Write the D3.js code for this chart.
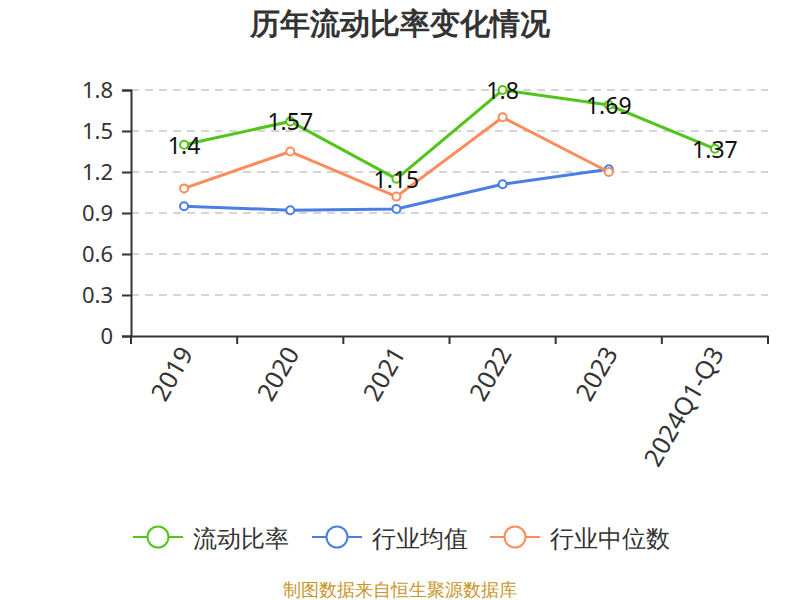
<!DOCTYPE html>
<html><head><meta charset="utf-8">
<script src="https://cdn.jsdelivr.net/npm/d3@7/dist/d3.min.js"></script>
<style>body{margin:0;background:#fff}svg{display:block;font-family:"Noto Sans","Open Sans",sans-serif}</style>
</head><body>
<svg id="c" width="800" height="600"></svg>
<script>
const categories = ["2019","2020","2021","2022","2023","2024Q1-Q3"];
const currentRatio = [1.4, 1.57, 1.15, 1.8, 1.69, 1.37];
const industryMean = [0.95, 0.92, 0.93, 1.11, 1.22, null];
const industryMedian = [1.08, 1.35, 1.02, 1.6, 1.2, null];
const yTicks = [0, 0.3, 0.6, 0.9, 1.2, 1.5, 1.8];
const seriesNames = ["流动比率","行业均值","行业中位数"];
const colors = ["#52c41a","#4a7ee3","#ff8b5a"];

const svg = d3.select("#c");
const L = 131, R = 768, T = 90, B = 336;
const x = d3.scaleBand().domain(categories).range([L, R]);
const y = d3.scaleLinear().domain([0, 1.8]).range([B, T]);

svg.append("text").attr("x", 400).attr("y", 34).attr("text-anchor","middle")
  .attr("font-size", 30).attr("font-weight","bold").attr("fill","#333").text("历年流动比率变化情况");

// grid
svg.append("g").selectAll("line").data(yTicks.filter(d=>d>0)).join("line")
  .attr("x1", L).attr("x2", R).attr("y1", d=>y(d)).attr("y2", d=>y(d))
  .attr("stroke","#c8c8c8").attr("stroke-width",1.5).attr("stroke-dasharray","8,6");

// y axis
const ya = svg.append("g").attr("transform",`translate(${L},0)`)
  .call(d3.axisLeft(y).tickValues(yTicks).tickSize(9).tickPadding(9).tickFormat(d=>String(d)));
ya.attr("font-size",null);
ya.select(".domain").attr("stroke","#333").attr("stroke-width",2);
ya.selectAll(".tick line").attr("stroke","#333").attr("stroke-width",2);
ya.selectAll("text").attr("font-size",22).attr("fill","#333").attr("font-family","'Noto Sans',sans-serif");

// x axis
const xa = svg.append("g").attr("transform",`translate(0,${B})`)
  .call(d3.axisBottom(x).tickSize(0).tickFormat(""));
xa.select(".domain").attr("stroke","#333").attr("stroke-width",2);
const bounds = categories.map(c=>x(c)).concat([R]);
svg.append("g").selectAll("line").data(bounds).join("line")
  .attr("x1",d=>d).attr("x2",d=>d).attr("y1",B).attr("y2",B+8)
  .attr("stroke","#333").attr("stroke-width",2);
svg.append("g").selectAll("text").data(categories).join("text")
  .attr("transform", d=>`translate(${x(d)+x.bandwidth()/2+4},${B+14}) rotate(-60)`)
  .attr("text-anchor","end").attr("dominant-baseline","middle")
  .attr("font-size",25).attr("fill","#333").text(d=>d);

const cx = c => x(c) + x.bandwidth()/2;
const allSeries = [currentRatio, industryMean, industryMedian];
const drawOrder = [1, 2, 0];
drawOrder.forEach(i => {
  const data = categories.map((c,j)=>({c, v: allSeries[i][j]})).filter(d=>d.v!=null);
  svg.append("path").datum(data)
    .attr("d", d3.line().x(d=>cx(d.c)).y(d=>y(d.v)))
    .attr("fill","none").attr("stroke",colors[i]).attr("stroke-width",3);
  svg.append("g").selectAll("circle").data(data).join("circle")
    .attr("cx",d=>cx(d.c)).attr("cy",d=>y(d.v)).attr("r",4)
    .attr("fill","#fff").attr("stroke",colors[i]).attr("stroke-width",2);
});
// labels
svg.append("g").selectAll("text").data(categories.map((c,j)=>({c,v:currentRatio[j]}))).join("text")
  .attr("x",d=>cx(d.c)).attr("y",d=>y(d.v)).attr("text-anchor","middle")
  .attr("dominant-baseline","central").attr("font-size",23).attr("fill","#111").text(d=>String(d.v));

// legend
const legX = [133, 312, 490];
legX.forEach((lx,i)=>{
  const g = svg.append("g");
  g.append("line").attr("x1",lx).attr("x2",lx+50).attr("y1",537).attr("y2",537)
    .attr("stroke",colors[i]).attr("stroke-width",2);
  g.append("circle").attr("cx",lx+25).attr("cy",537).attr("r",10.5)
    .attr("fill","#fff").attr("stroke",colors[i]).attr("stroke-width",2);
  g.append("text").attr("x",lx+60).attr("y",537).attr("dominant-baseline","central")
    .attr("font-size",24).attr("fill","#333").text(seriesNames[i]);
});

svg.append("text").attr("x",400).attr("y",596).attr("text-anchor","middle")
  .attr("font-size",18).attr("fill","#c8962a").text("制图数据来自恒生聚源数据库");
</script>
</body></html>
